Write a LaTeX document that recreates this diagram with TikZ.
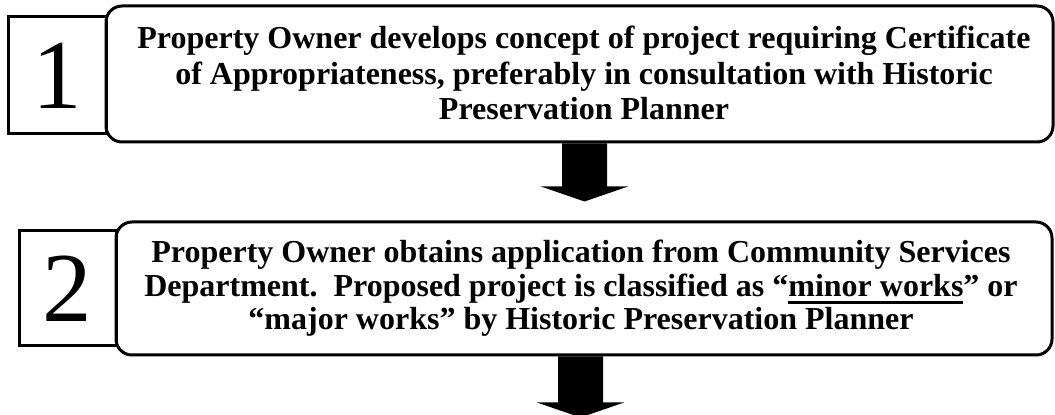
\documentclass[tikz,border=0pt]{standalone}
\usepackage{fontspec}
\setmainfont{Liberation Serif}
\usetikzlibrary{calc}
\newcommand\thickul[1]{\setbox0\hbox{#1}\rlap{\rule[-7.5pt]{\wd0}{2.5pt}}\box0}
\begin{document}
\begin{tikzpicture}[x=1pt,y=1pt,
  numbox/.style={draw, line width=3pt, inner sep=0pt, font=\fontsize{99}{99}\selectfont},
  stepbox/.style={draw, line width=3pt, rounded corners=16pt, inner sep=0pt, align=center},
  steptext/.style={font=\bfseries\fontsize{32}{#1}\selectfont, align=center, inner sep=0pt}]
\useasboundingbox (0,0) rectangle (1055,415);
\fill[white] (0,0) rectangle (1055,415);
% step 1
\node[stepbox, minimum width=947pt, minimum height=136pt] (b1) at (579.5,341) {};
\node[numbox, minimum width=98pt, minimum height=117pt] (n1) at (57,339.5) {\raisebox{-10pt}{1}};
\node[steptext=35.5] (t1) at (584,342) {Property Owner develops concept of project requiring Certificate\\of Appropriateness, preferably in consultation with Historic\\Preservation Planner};
% step 2
\node[stepbox, minimum width=936pt, minimum height=133pt] (b2) at (584,126.5) {};
\node[numbox, minimum width=97pt, minimum height=115pt] (n2) at (67.5,126.5) {\raisebox{-11pt}{2}};
\node[steptext=33.5] (t2) at (581,126.5) {Property Owner obtains application from Community Services\\Department.\ \ Proposed project is classified as “\thickul{minor works}” or\\“major works” by Historic Preservation Planner};
% arrows
\coordinate (a1) at ($(b1.south)+(5,0)$);
\fill (a1) ++(-22.5,0) -- ++(0,-43) -- ++(-21,0) -- ($(a1)+(0,-58)$) -- ($(a1)+(43.5,-43)$) -- ($(a1)+(22.5,-43)$) -- ($(a1)+(22.5,0)$) -- cycle;
\coordinate (a2) at ($(b2.south)+(-3.5,0)$);
\fill (a2) ++(-22.5,0) -- ++(0,-46) -- ++(-21,0) -- ($(a2)+(0,-61)$) -- ($(a2)+(43.5,-46)$) -- ($(a2)+(22.5,-46)$) -- ($(a2)+(22.5,0)$) -- cycle;
\end{tikzpicture}
\end{document}
